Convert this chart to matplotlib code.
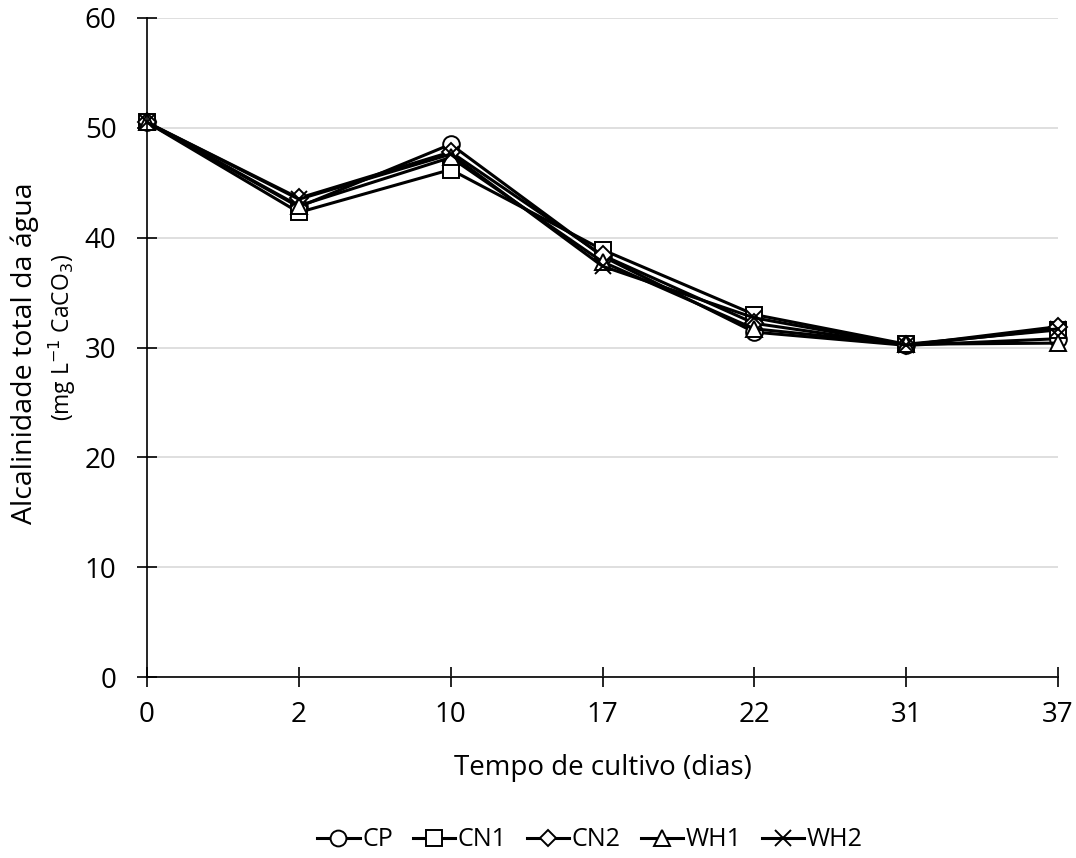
import matplotlib
matplotlib.use("Agg")
import matplotlib.pyplot as plt
import numpy as np

plt.rcParams["font.family"] = ["Open Sans", "DejaVu Sans"]

days = ["0", "2", "10", "17", "22", "31", "37"]
cp = [50.5, 42.8, 48.5, 38.3, 31.4, 30.2, 30.8]
cn1 = [50.5, 42.3, 46.2, 38.9, 33.0, 30.3, 31.6]
cn2 = [50.5, 43.6, 47.8, 38.4, 32.2, 30.2, 31.9]
wh1 = [50.5, 42.9, 47.3, 37.8, 31.7, 30.3, 30.4]
wh2 = [50.5, 43.5, 47.6, 37.4, 32.7, 30.2, 31.7]

series = [("CP", cp, "o"), ("CN1", cn1, "s"), ("CN2", cn2, "D"),
          ("WH1", wh1, "^"), ("WH2", wh2, "x")]

fig = plt.figure(figsize=(10.76, 8.58), dpi=100)
ax = fig.add_axes([147 / 1076, 1 - 677 / 858, (1058 - 147) / 1076, (677 - 18) / 858])

x = np.arange(len(days))
for name, vals, mk in series:
    ms = 9 if mk == "D" else 12
    ax.plot(x, vals, color="black", lw=2.2, marker=mk, ms=ms,
            mfc="white", mec="black", mew=1.4, label=name, clip_on=False)

ax.set_ylim(0, 60)
ax.set_xlim(0, len(days) - 1)
ax.set_yticks(range(0, 61, 10))
ax.set_xticks(x)
ax.set_xticklabels(days)
ax.yaxis.grid(True, color="#d9d9d9", lw=1.2)
ax.set_axisbelow(True)
for s in ("top", "right"):
    ax.spines[s].set_visible(False)
for s in ("left", "bottom"):
    ax.spines[s].set_linewidth(1.2)
ax.tick_params(axis="both", labelsize=20, length=14, width=1.2, direction="inout")
ax.tick_params(axis="x", pad=10)
ax.tick_params(axis="y", pad=15)

ax.set_xlabel("Tempo de cultivo (dias)", fontsize=20, labelpad=18)
fig.text(25 / 1076, 1 - 353 / 858, "Alcalinidade total da água", rotation=90,
         fontsize=20.5, ha="center", va="center")
fig.text(62 / 1076, 1 - 338 / 858, "(mg L$^{-1}$ CaCO$_3$)", rotation=90,
         fontsize=16.5, ha="center", va="center")

fig.legend(loc="center", bbox_to_anchor=(590 / 1076, 1 - 840 / 858), ncol=5, frameon=False,
           fontsize=18, handlelength=1.7, handletextpad=0.1, columnspacing=0.8,
           markerscale=0.95)

fig.savefig("out.png", dpi=100)
